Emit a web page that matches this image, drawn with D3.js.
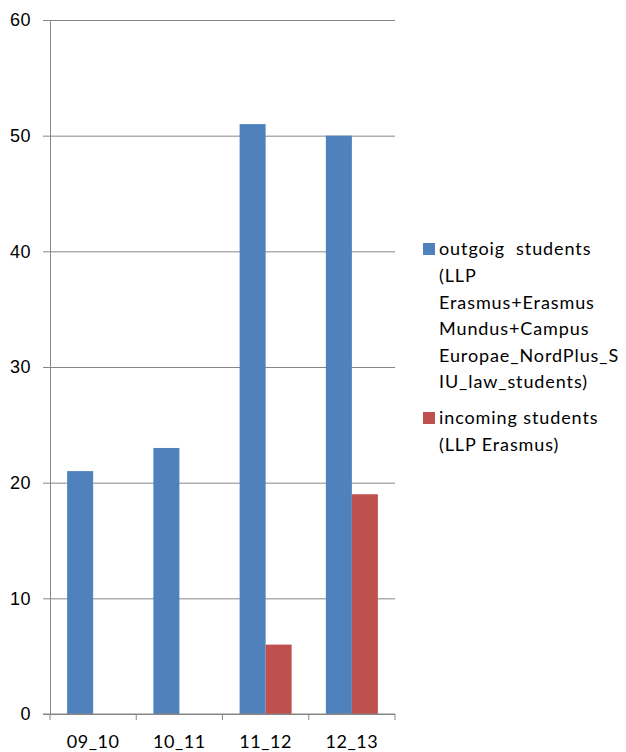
<!DOCTYPE html>
<html>
<head>
<meta charset="utf-8">
<script src="https://cdn.jsdelivr.net/npm/d3@7"></script>
<style>
  body { margin: 0; background: #fff; }
  svg { font-family: Lato, "Open Sans", sans-serif; }
</style>
</head>
<body>
<div id="chart"></div>
<script>
// chart data
const categories = ['09_10', '10_11', '11_12', '12_13'];
const outgoing = [21, 23, 51, 50];
const incoming = [0, 0, 6, 19];
const yTicks = [0, 10, 20, 30, 40, 50, 60];
const seriesNames = ['outgoing', 'incoming'];
const legendLines = [
    ['outgoig  students', '(LLP', 'Erasmus+Erasmus', 'Mundus+Campus', 'Europae_NordPlus_S', 'IU_law_students)'],
    ['incoming students', '(LLP Erasmus)']
];
const colors = ['#4f81bd', '#c0504d'];

// dimensions
const width = 626;
const height = 752;
const plot = {left: 50, right: 395, top: 20, bottom: 714};

const svg = d3.select('#chart')
    .append('svg')
    .attr('width', width)
    .attr('height', height);

// scales
const x = d3.scaleBand()
    .domain(categories)
    .range([plot.left, plot.right])
    .paddingInner(0.397)
    .paddingOuter(0.1985);
const xSub = d3.scaleBand()
    .domain(seriesNames)
    .range([0, x.bandwidth()]);
const y = d3.scaleLinear()
    .domain([0, 60])
    .range([plot.bottom, plot.top]);

// gridlines + left axis
const yAxis = svg.append('g')
    .attr('transform', 'translate(' + plot.left + ',0)')
    .call(d3.axisLeft(y).tickValues(yTicks).tickSize(7).tickPadding(12));
yAxis.select('.domain').attr('stroke', '#868686');
yAxis.selectAll('.tick line').attr('stroke', '#868686');
yAxis.selectAll('.tick').append('line')
    .attr('x1', 0)
    .attr('x2', plot.right - plot.left)
    .attr('stroke', '#868686')
    .attr('stroke-width', 1);
yAxis.selectAll('text')
    .attr('font-size', 18)
    .attr('letter-spacing', 0.5)
    .attr('fill', '#000');

// bars
const rows = categories.map((c, i) => ({cat: c, values: [outgoing[i], incoming[i]]}));
const groups = svg.append('g')
    .selectAll('g')
    .data(rows)
    .join('g')
    .attr('transform', d => 'translate(' + x(d.cat) + ',0)');
groups.selectAll('rect')
    .data(d => d.values.map((v, j) => ({key: seriesNames[j], v: v, j: j})))
    .join('rect')
    .attr('x', d => xSub(d.key))
    .attr('width', xSub.bandwidth())
    .attr('y', d => y(d.v))
    .attr('height', d => y(0) - y(d.v))
    .attr('fill', d => colors[d.j]);

// bottom axis with category separators
const sepScale = d3.scaleLinear().domain([0, categories.length]).range([plot.left, plot.right]);
const xAxis = svg.append('g')
    .attr('transform', 'translate(0,' + plot.bottom + ')');
xAxis.append('line')
    .attr('x1', plot.left - 7)
    .attr('x2', plot.right)
    .attr('stroke', '#868686');
xAxis.selectAll('.sep')
    .data(d3.range(categories.length + 1))
    .join('line')
    .attr('class', 'sep')
    .attr('x1', d => sepScale(d))
    .attr('x2', d => sepScale(d))
    .attr('y1', 0)
    .attr('y2', 6)
    .attr('stroke', '#868686');
xAxis.selectAll('.lab')
    .data(categories)
    .join('text')
    .attr('class', 'lab')
    .attr('x', d => x(d) + x.bandwidth() / 2)
    .attr('y', 34)
    .attr('text-anchor', 'middle')
    .attr('font-size', 18)
    .attr('letter-spacing', 0.5)
    .text(d => d);

// legend
const legend = svg.append('g');
const legendTop = [249, 418];
legendLines.forEach((lines, i) => {
    legend.append('rect')
        .attr('x', 423)
        .attr('y', legendTop[i] - 6)
        .attr('width', 12)
        .attr('height', 12)
        .attr('fill', colors[i]);
    legend.append('g')
        .selectAll('text')
        .data(lines)
        .join('text')
        .attr('x', 439)
        .attr('y', (d, k) => legendTop[i] + k * 26.6)
        .attr('dy', '0.35em')
        .attr('font-size', 18)
        .attr('letter-spacing', 0.9)
        .style('white-space', 'pre')
        .text(d => d);
});
</script>
</body>
</html>
